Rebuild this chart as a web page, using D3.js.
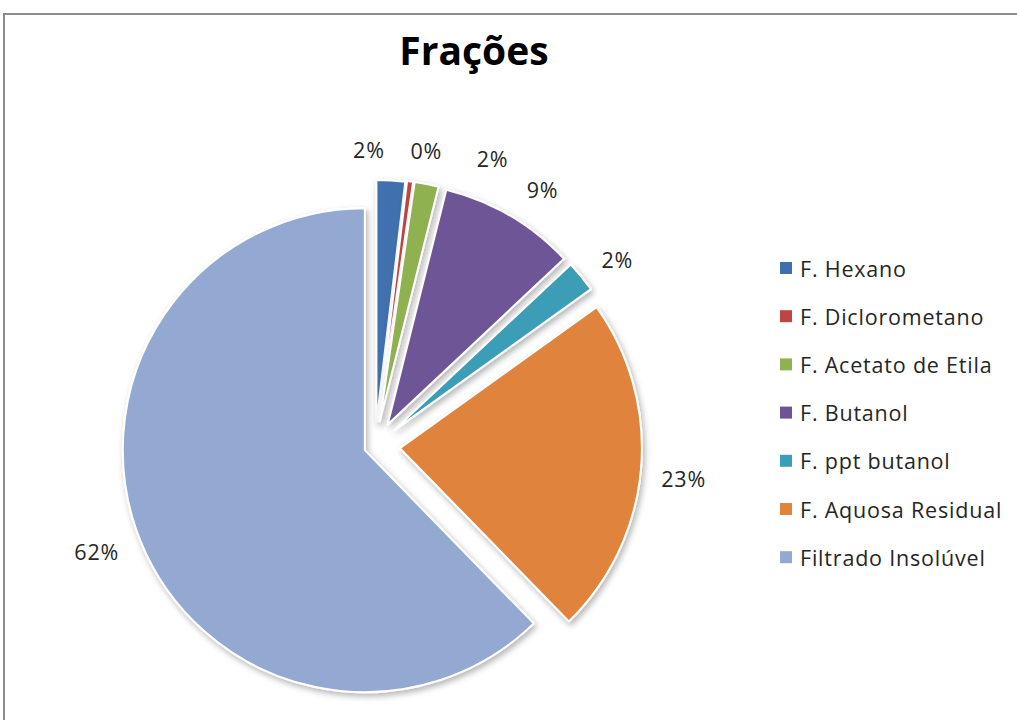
<!DOCTYPE html>
<html>
<head>
<meta charset="utf-8">
<script src="https://cdn.jsdelivr.net/npm/d3@7"></script>
<style>
  html, body { margin: 0; padding: 0; background: #ffffff; }
  svg { display: block; }
</style>
</head>
<body>
<svg id="chart" width="1017" height="720"></svg>
<script>
// Fractions of the extract, in percent
const categories = [
  "F. Hexano",
  "F. Diclorometano",
  "F. Acetato de Etila",
  "F. Butanol",
  "F. ppt butanol",
  "F. Aquosa Residual",
  "Filtrado Insolúvel"
];
const values = [1.9, 0.4, 1.6, 9.1, 2.1, 22.6, 62.3];
const title = "Frações";

// Styling
const colors = ["#3F6FAD", "#BE4542", "#8FB150", "#6E5495", "#3B9DB6", "#E0843C", "#93A9D2"];
const explode = [24, 25, 25, 25, 25, 25, 11];      // pull-out distance of each slice, px
const labelNudge = [-5, 2.5, 12, 3, 2, 1, 1.5];     // degrees, keeps small labels apart
const labelPush = [0, 0, 9, 2, 0, 0, 0];            // extra outward distance, px

const W = 1017, H = 720;
const cx = 375, cy = 446, R = 242;
const font = "'Open Sans', 'Liberation Sans', sans-serif";
const textSize = 21.5, textSpacing = 0.8;

const svg = d3.select("#chart");

// soft shadow under the slices
const defs = svg.append("defs");
const f = defs.append("filter").attr("id", "shadow")
  .attr("x", "-20%").attr("y", "-20%").attr("width", "140%").attr("height", "140%");
f.append("feDropShadow")
  .attr("dx", 2).attr("dy", 3).attr("stdDeviation", 3)
  .attr("flood-color", "#000").attr("flood-opacity", 0.3);

// chart area frame
svg.append("rect")
  .attr("x", 4).attr("y", 14)
  .attr("width", W + 50).attr("height", H + 50)
  .attr("fill", "#fff").attr("stroke", "#8c8c8c").attr("stroke-width", 2);

// title
svg.append("text")
  .attr("x", 474).attr("y", 65)
  .attr("text-anchor", "middle")
  .attr("font-family", font).attr("font-weight", 700)
  .attr("font-size", 39).attr("fill", "#000")
  .text(title);

const data = categories.map((c, i) => ({ name: c, value: values[i], i }));

const pie = d3.pie().sort(null).value(d => d.value)
  .startAngle(0).endAngle(2 * Math.PI);
const arcs = pie(data);

const arc = d3.arc().innerRadius(0).outerRadius(R);

const color = d3.scaleOrdinal().domain(categories).range(colors);

function offset(a, dist) {
  const m = (a.startAngle + a.endAngle) / 2;
  return [Math.sin(m) * dist, -Math.cos(m) * dist];
}

const g = svg.append("g").attr("transform", `translate(${cx},${cy})`);

g.selectAll("path.slice")
  .data(arcs)
  .join("path")
  .attr("class", "slice")
  .attr("transform", d => {
    const [dx, dy] = offset(d, explode[d.index]);
    return `translate(${dx},${dy})`;
  })
  .attr("d", arc)
  .attr("fill", d => color(d.data.name))
  .attr("stroke", "#ffffff")
  .attr("stroke-width", 2)
  .attr("stroke-linejoin", "round")
  .attr("filter", "url(#shadow)");

// percentage labels outside each slice: the label box sits a fixed gap beyond the rim
const fmt = v => Math.round(v) + "%";
const gap = 20;
const labels = g.selectAll("text.pct")
  .data(arcs)
  .join("text")
  .attr("class", "pct")
  .attr("text-anchor", "middle")
  .attr("dominant-baseline", "central")
  .attr("font-family", font)
  .attr("font-size", textSize)
  .attr("letter-spacing", textSpacing)
  .attr("fill", "#262626")
  .text(d => fmt(d.data.value));

labels.attr("transform", function (d) {
  const bb = this.getBBox();
  const [ex, ey] = offset(d, explode[d.index]);
  const m = (d.startAngle + d.endAngle) / 2 + labelNudge[d.index] * Math.PI / 180;
  const s = Math.sin(m), c = Math.cos(m);
  const rr = R + gap + labelPush[d.index] + Math.abs(s) * bb.width / 2 + Math.abs(c) * 10;
  return `translate(${ex + s * rr},${ey - c * rr})`;
});

// legend
const legend = svg.append("g").attr("transform", "translate(780,268)");
const step = 48.2;
const items = legend.selectAll("g.item")
  .data(categories)
  .join("g")
  .attr("class", "item")
  .attr("transform", (d, i) => `translate(0,${i * step})`);
items.append("rect")
  .attr("x", 0).attr("y", -6)
  .attr("width", 12).attr("height", 12)
  .attr("fill", d => color(d));
items.append("text")
  .attr("x", 20).attr("y", 0)
  .attr("dominant-baseline", "central")
  .attr("font-family", font)
  .attr("font-size", textSize)
  .attr("letter-spacing", textSpacing)
  .attr("fill", "#262626")
  .text(d => d);
</script>
</body>
</html>
